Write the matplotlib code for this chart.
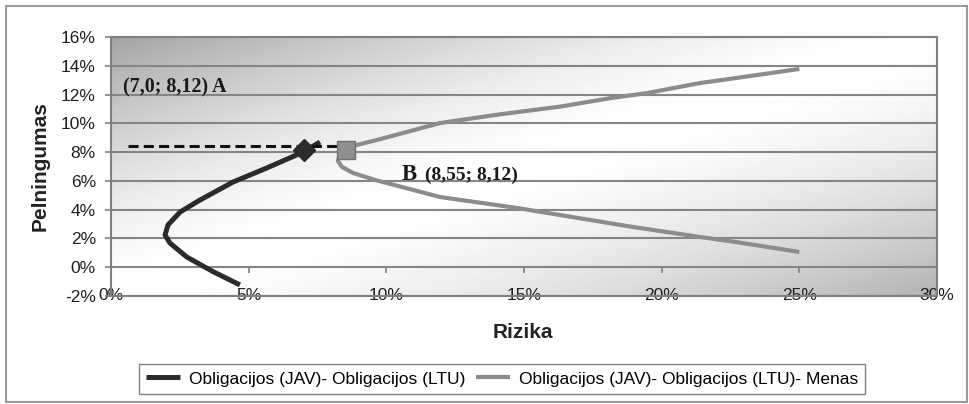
import numpy as np
import matplotlib.pyplot as plt
from matplotlib.patches import Rectangle

plt.rcParams['font.family'] = ['Liberation Sans', 'DejaVu Sans']

# efektyvusis rinkinys: obligacijos (JAV) - obligacijos (LTU)
risk_bonds = [4.68, 3.7, 2.75, 2.14, 1.96, 2.07, 2.51, 3.23, 4.43, 5.66, 6.97, 7.59]
ret_bonds = [-1.23, -0.3, 0.71, 1.68, 2.24, 2.94, 3.84, 4.67, 5.92, 6.9, 8.0, 8.7]

# obligacijos (JAV) - obligacijos (LTU) - menas
risk_art = [25.0, 22.7, 21.4, 18.95, 16.3, 14.74, 11.95, 9.6, 8.79, 8.39, 8.24,
            8.35, 8.93, 9.77, 11.95, 14.1, 16.3, 18.23, 19.46, 21.39, 22.59, 25.0]
ret_art = [1.06, 1.75, 2.1, 2.8, 3.63, 4.12, 4.88, 6.06, 6.55, 6.97, 7.38,
           8.15, 8.5, 8.9, 10.02, 10.62, 11.16, 11.78, 12.1, 12.8, 13.12, 13.78]

point_a = (7.0, 8.12)
point_b = (8.55, 8.12)
guide_level = 8.45
guide_from, guide_to = 0.6, 8.2

series_labels = ['Obligacijos (JAV)- Obligacijos (LTU)',
                 'Obligacijos (JAV)- Obligacijos (LTU)- Menas']
x_ticks = [0, 5, 10, 15, 20, 25, 30]
y_ticks = [-2, 0, 2, 4, 6, 8, 10, 12, 14, 16]

fig = plt.figure(figsize=(9.69, 4.04), dpi=100)
ax = fig.add_axes([0.1146, 0.2673, 0.8524, 0.6411])

# diagonal grey-white-grey fill of the plot area
u = np.linspace(0, 1, 400)[None, :]
w = np.linspace(1, 0, 200)[:, None]
s = w - u
shade = 1 - np.where(s > 0, 0.36, 0.30) * np.abs(s) ** 1.5
ax.imshow(shade, extent=[0, 30, -2, 16], aspect='auto', cmap='gray',
          vmin=0, vmax=1, interpolation='bilinear', zorder=0)

ax.set_xlim(0, 30)
ax.set_ylim(-2, 16)
ax.set_axisbelow('line')
ax.yaxis.grid(True, color='#858585', lw=1.5)

ax.plot(risk_bonds, ret_bonds, color='#2b2b2b', lw=3.6, solid_capstyle='butt',
        label=series_labels[0], zorder=3)
ax.plot(risk_art, ret_art, color='#8c8c8c', lw=3.0, solid_capstyle='butt',
        label=series_labels[1], zorder=3)
ax.hlines(guide_level, guide_from, guide_to, colors='#111111', lw=2.2,
          linestyles=(0, (3.3, 1.7)), zorder=4)
ax.plot(*point_a, marker='D', ms=11.5, color='#2b2b2b', zorder=5)
ax.plot(*point_b, marker='s', ms=13, mfc='#8f8f8f', mec='#707070', mew=1, zorder=5)

ax.text(0.44, 12.46, '(7,0; 8,12) A', family='Liberation Serif', weight='bold',
        fontsize=14.5, ha='left', va='center', color='#1a1a1a')
ax.text(10.57, 6.06, 'B', family='Liberation Serif', weight='bold',
        fontsize=16.5, ha='left', va='baseline', color='#1a1a1a')
ax.text(11.4, 6.06, '(8,55; 8,12)', family='Liberation Serif', weight='bold',
        fontsize=14, ha='left', va='baseline', color='#1a1a1a')

for sp in ax.spines.values():
    sp.set_color('#808080')
    sp.set_linewidth(1.5)

ax.set_yticks(y_ticks)
ax.set_yticklabels([f'{v}%' for v in y_ticks])
ax.tick_params(axis='y', length=4, width=1.2, color='#808080', pad=7,
               labelsize=12.5, labelcolor='#1e1e1e')
ax.set_xticks(x_ticks)
ax.set_xticklabels([f'{v}%' for v in x_ticks])
ax.tick_params(axis='x', length=0, pad=-6, labelsize=12.5, labelcolor='#1e1e1e')

# tick marks sit on the 0% line where the horizontal axis crosses
sec = ax.secondary_xaxis(2 / 18)
sec.set_xticks(x_ticks)
sec.tick_params(axis='x', length=4, width=1.2, color='#808080', labelbottom=False)
sec.spines['bottom'].set_visible(False)

fig.text(40 / 969, 1 - 166 / 404, 'Pelningumas', rotation=90, ha='center',
         va='center', fontsize=15, weight='bold', color='#222222')
fig.text(523 / 969, 1 - 332 / 404, 'Rizika', ha='center', va='center',
         fontsize=15, weight='bold', color='#222222')

fig.legend(loc='center', bbox_to_anchor=(0.518, 0.0619), ncol=2, fontsize=12.5,
           frameon=True, fancybox=False, edgecolor='#808080', framealpha=1,
           handlelength=2.0, handletextpad=0.5, columnspacing=0.6, borderpad=0.4)

fig.patches.append(Rectangle((6 / 969, 2 / 404), 961 / 969, 396 / 404,
                             transform=fig.transFigure, fill=False,
                             edgecolor='#9a9a9a', lw=1.5))

fig.savefig('out.png', dpi=100)
